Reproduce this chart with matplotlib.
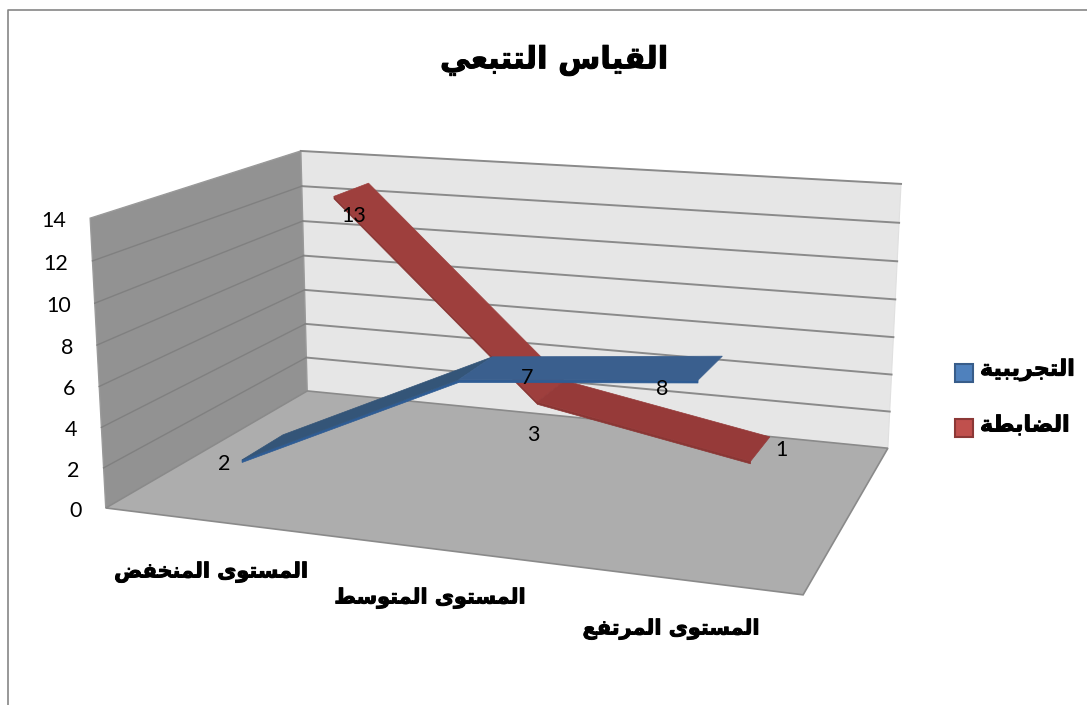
import numpy as np
import matplotlib
matplotlib.use("Agg")
import matplotlib.pyplot as plt
import matplotlib.patheffects as pe
from matplotlib.patches import Polygon, Rectangle

title = "القياس التتبعي"
categories = ["المستوى المنخفض", "المستوى المتوسط", "المستوى المرتفع"]
series_names = ["التجريبية", "الضابطة"]
blue_values = [2, 7, 8]
red_values = [13, 3, 1]
value_ticks = [0, 2, 4, 6, 8, 10, 12, 14]

# first form code of each letter: isolated, final, initial, medial follow it
FORMS = {"ا": 0xFE8D, "ب": 0xFE8F, "ة": 0xFE93, "ت": 0xFE95, "ج": 0xFE9D, "خ": 0xFEA5,
         "ر": 0xFEAD, "س": 0xFEB1, "ض": 0xFEBD, "ط": 0xFEC1, "ع": 0xFEC9, "ف": 0xFED1,
         "ق": 0xFED5, "ل": 0xFEDD, "م": 0xFEE1, "ن": 0xFEE5, "و": 0xFEED, "ى": 0xFEEF,
         "ي": 0xFEF1}
NO_NEXT = set("اةروى")


def shape(text):
    """matplotlib does no Arabic shaping, so pick the forms and reverse"""
    out = []
    for i, c in enumerate(text):
        if c not in FORMS:
            out.append(c)
            continue
        prev_joins = i > 0 and text[i - 1] in FORMS and text[i - 1] not in NO_NEXT
        next_joins = i + 1 < len(text) and text[i + 1] in FORMS and c not in NO_NEXT
        offset = {(False, False): 0, (True, False): 1, (False, True): 2, (True, True): 3}
        out.append(chr(FORMS[c] + offset[(prev_joins, next_joins)]))
    return "".join(reversed(out))


# box corners on the page -> camera matrix for the 3d look
box_corners = [((0, 0, 0), (106, 508)), ((0, 1, 0), (307, 391)), ((1, 1, 0), (888, 448)),
               ((1, 0, 0), (803, 595)), ((0, 0, 1), (90, 218)), ((0, 1, 1), (301, 151)),
               ((1, 1, 1), (901, 184))]
A, b = [], []
for (X, Y, Z), (u, v) in box_corners:
    A.append([X, Y, Z, 1, 0, 0, 0, 0, -u * X, -u * Y, -u * Z])
    A.append([0, 0, 0, 0, X, Y, Z, 1, -v * X, -v * Y, -v * Z])
    b += [u, v]
cam = np.append(np.linalg.lstsq(np.array(A, float), np.array(b, float), rcond=None)[0], 1).reshape(3, 4)


def project(x, y, value):
    """x across categories 0-1, y depth 0-1, value in chart units"""
    p = cam @ np.array([x, y, value / 14, 1])
    return p[0] / p[2], p[1] / p[2]


fig = plt.figure(figsize=(10.87, 7.05), dpi=100)
ax = fig.add_axes([0, 0, 1, 1])
ax.set_xlim(0, 1087)
ax.set_ylim(705, 0)
ax.axis("off")

ax.plot([8, 8, 1087], [705, 10, 10], color="#868686", lw=1.2)


def face(points, color, edge="#8a8a8a", lw=1.2, zorder=1):
    ax.add_patch(Polygon([project(*p) for p in points], closed=True, facecolor=color,
                         edgecolor=edge, lw=lw, zorder=zorder))


face([(0, 1, 0), (1, 1, 0), (1, 1, 14), (0, 1, 14)], "#e6e6e6", edge="#e0e0e0", lw=0.8)
face([(0, 0, 0), (0, 1, 0), (0, 1, 14), (0, 0, 14)], "#929292", edge="#9a9a9a", lw=1.0)
face([(0, 0, 0), (1, 0, 0), (1, 1, 0), (0, 1, 0)], "#adadad")

for v in value_ticks[1:]:
    back_l, back_r, front_l = project(0, 1, v), project(1, 1, v), project(0, 0, v)
    ax.plot([back_l[0], back_r[0]], [back_l[1], back_r[1]], color="#8a8a8a", lw=1.4, zorder=2)
    if v < 14:
        ax.plot([front_l[0], back_l[0]], [front_l[1], back_l[1]], color="#808080", lw=1.0, zorder=2)

for v in value_ticks:
    px, py = project(0, 0, v)
    ax.text(px - 24, py + 3, str(v), ha="right", va="center", fontsize=15.5, family="Lato", zorder=6)


def ribbon(values, y0, y1, top_colors, side_color, zorder):
    xs = [1 / 6, 1 / 2, 5 / 6]
    for i in range(len(values) - 1):
        a, b = values[i], values[i + 1]
        # thin side below the front edge
        face([(xs[i], y0, a), (xs[i + 1], y0, b), (xs[i + 1], y0, b - 0.13), (xs[i], y0, a - 0.13)],
             side_color, edge=side_color, lw=0.5, zorder=zorder)
        face([(xs[i], y0, a), (xs[i + 1], y0, b), (xs[i + 1], y1, b), (xs[i], y1, a)],
             top_colors[i], edge=top_colors[i], lw=0.5, zorder=zorder + 0.1)


ribbon(red_values, 0.65, 0.85, ["#9e3f3d", "#963a39"], "#8a3634", 3)
ribbon(blue_values, 0.15, 0.35, ["#345578", "#3a5f8e"], "#2e5c94", 4)

label_pos = [(224, 464), (527, 378), (662, 389), (354, 216), (533, 435), (781, 450)]
for (lx, ly), v in zip(label_pos, blue_values + red_values):
    ax.text(lx, ly, str(v), ha="center", va="center", fontsize=15.5, family="Lato", zorder=7)

# the original face is heavier than DejaVu Bold
heavy = [pe.withStroke(linewidth=0.7, foreground="black")]

ax.text(554, 60, shape(title), ha="center", va="center", fontsize=22, fontweight="bold",
        family="DejaVu Sans", zorder=7, path_effects=heavy)

cat_pos = [(211, 572), (430, 598), (671, 629)]
for (lx, ly), name in zip(cat_pos, categories):
    ax.text(lx, ly, shape(name), ha="center", va="center", fontsize=15, fontweight="bold",
            family="DejaVu Sans", zorder=7, path_effects=heavy)

legend_colors = [("#4f81bd", "#385d8a"), ("#c0504d", "#8c3836")]
for ly, name, (fc, ec) in zip([373, 428], series_names, legend_colors):
    ax.add_patch(Rectangle((955, ly - 9), 18, 18, facecolor=fc, edgecolor=ec, lw=1.5, zorder=7))
    ax.text(980, ly - 3, shape(name), ha="left", va="center", fontsize=16, fontweight="bold",
            family="DejaVu Sans", zorder=7, path_effects=heavy)

fig.savefig("out.png", dpi=100)
